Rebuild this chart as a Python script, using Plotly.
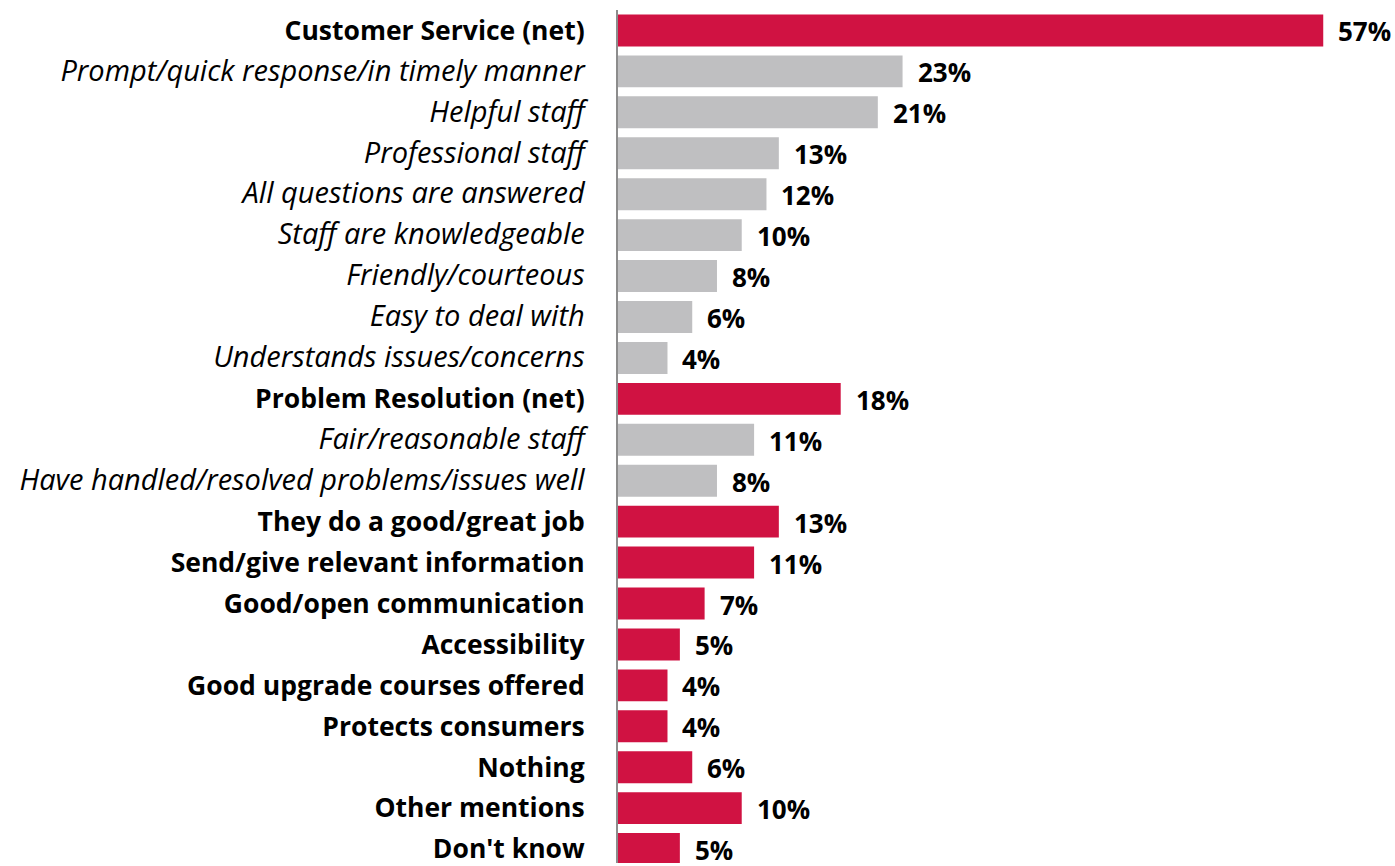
import plotly.graph_objects as go

categories = [
    "Customer Service (net)",
    "Prompt/quick response/in timely manner",
    "Helpful staff",
    "Professional staff",
    "All questions are answered",
    "Staff are knowledgeable",
    "Friendly/courteous",
    "Easy to deal with",
    "Understands issues/concerns",
    "Problem Resolution (net)",
    "Fair/reasonable staff",
    "Have handled/resolved problems/issues well",
    "They do a good/great job",
    "Send/give relevant information",
    "Good/open communication",
    "Accessibility",
    "Good upgrade courses offered",
    "Protects consumers",
    "Nothing",
    "Other mentions",
    "Don't know",
]
values = [57, 23, 21, 13, 12, 10, 8, 6, 4, 18, 11, 8, 13, 11, 7, 5, 4, 4, 6, 10, 5]
# True = headline item (red, bold); False = sub-item (grey, italic)
headline = [True, False, False, False, False, False, False, False, False,
            True, False, False, True, True, True, True, True, True, True, True, True]

RED = "#D01242"
GREY = "#BFBFC1"
FONT = "Open Sans"

positions = list(range(len(categories)))
colors = [RED if h else GREY for h in headline]
ticktext = [
    f"<b>{c}</b>" if h else f"<span style='font-size:29px'><i>{c}</i></span>"
    for c, h in zip(categories, headline)
]

fig = go.Figure()
fig.add_trace(go.Bar(
    x=values,
    y=positions,
    orientation="h",
    marker=dict(color=colors, line=dict(width=0)),
    width=0.78,
    hoverinfo="skip",
))

for v, p in zip(values, positions):
    fig.add_annotation(
        x=v, y=p, text=f"<b>{v}%</b>", showarrow=False,
        xanchor="left", yanchor="middle", xshift=14, yshift=-1,
        height=26, borderpad=0,
        font=dict(family=FONT, size=26, color="#000000"),
    )

fig.update_layout(
    width=1395, height=866,
    margin=dict(l=618, r=0, t=9.5, b=0),
    paper_bgcolor="white", plot_bgcolor="white",
    showlegend=False,
    font=dict(family=FONT, size=26.5, color="#000000"),
    xaxis=dict(range=[0, 62.8], visible=False, fixedrange=True),
    yaxis=dict(
        range=[20.34, -0.5],
        tickmode="array", tickvals=positions, ticktext=ticktext,
        showline=True, linecolor="#8C8C8C", linewidth=2,
        showgrid=False, zeroline=False,
        ticks="outside", ticklen=26, tickcolor="rgba(0,0,0,0)",
        ticklabeloverflow="allow",
        tickfont=dict(family=FONT, size=26.5, color="#000000"),
        fixedrange=True,
    ),
)

fig.write_html("out.html")
